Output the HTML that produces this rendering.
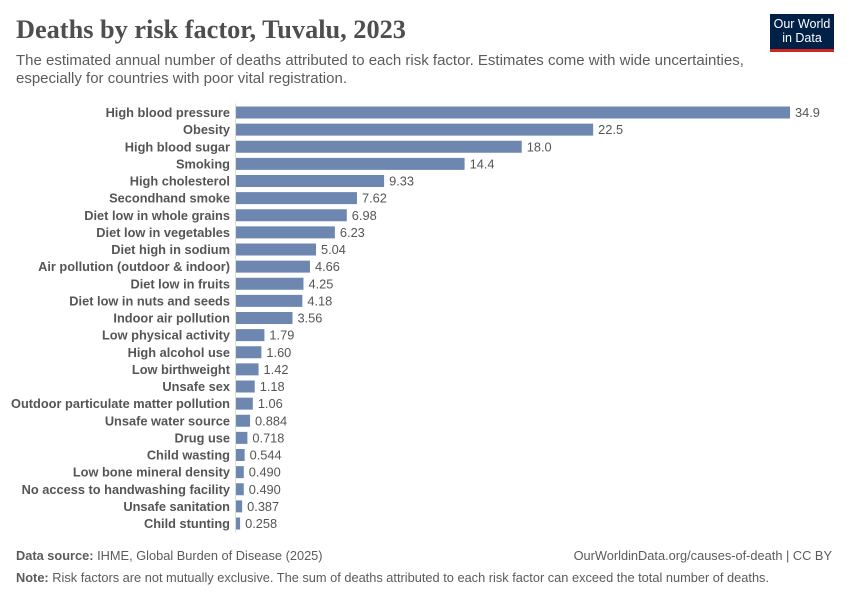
<!DOCTYPE html>
<html><head><meta charset="utf-8"><style>
body{margin:0;background:#fff;font-family:"Liberation Sans",sans-serif;}
#wrap{position:relative;width:850px;height:600px;overflow:hidden;}
.t{position:absolute;white-space:nowrap;}
</style></head><body>
<div id="wrap">
<div class="t" style="left:16px;top:15px;font-family:'Liberation Serif',serif;font-size:26.3px;font-weight:bold;color:#4e4e4e;">Deaths by risk factor, Tuvalu, 2023</div>
<div class="t" style="left:16px;top:52px;font-size:15px;line-height:18px;color:#5b5b5b;">The estimated annual number of deaths attributed to each risk factor. Estimates come with wide uncertainties,<br>especially for countries with poor vital registration.</div>
<div style="position:absolute;left:770px;top:14px;width:64px;height:38px;background:#002147;border-bottom:3px solid #ce261e;box-sizing:border-box;color:#fff;font-size:12.5px;line-height:13.5px;text-align:center;padding-top:4px;">Our World<br>in Data</div>
<svg id="chart" width="850" height="600" style="position:absolute;left:0;top:0;"></svg>
<div class="t" style="left:16px;top:548px;font-size:12.8px;color:#5b5b5b;"><b>Data source:</b> IHME, Global Burden of Disease (2025)</div>
<div class="t" style="right:18px;top:548px;font-size:12.8px;color:#5b5b5b;">OurWorldinData.org/causes-of-death | CC BY</div>
<div class="t" style="left:16px;top:570px;font-size:12.8px;color:#5b5b5b;"><b>Note:</b> Risk factors are not mutually exclusive. The sum of deaths attributed to each risk factor can exceed the total number of deaths.</div>
</div>
<script>
const categories=["High blood pressure","Obesity","High blood sugar","Smoking","High cholesterol","Secondhand smoke","Diet low in whole grains","Diet low in vegetables","Diet high in sodium","Air pollution (outdoor & indoor)","Diet low in fruits","Diet low in nuts and seeds","Indoor air pollution","Low physical activity","High alcohol use","Low birthweight","Unsafe sex","Outdoor particulate matter pollution","Unsafe water source","Drug use","Child wasting","Low bone mineral density","No access to handwashing facility","Unsafe sanitation","Child stunting"];
const values=[34.9,22.5,18.0,14.4,9.33,7.62,6.98,6.23,5.04,4.66,4.25,4.18,3.56,1.79,1.60,1.42,1.18,1.06,0.884,0.718,0.544,0.490,0.490,0.387,0.258];
const labels=["34.9","22.5","18.0","14.4","9.33","7.62","6.98","6.23","5.04","4.66","4.25","4.18","3.56","1.79","1.60","1.42","1.18","1.06","0.884","0.718","0.544","0.490","0.490","0.387","0.258"];
const NS="http://www.w3.org/2000/svg";
const svg=document.getElementById('chart');
const x0=236,x1=790,maxV=34.9;
const x=v=>x0+(x1-x0)*v/maxV;
const y=i=>112.5+i*17.125;
const bh=12;
const ax=document.createElementNS(NS,'line');


ax.setAttribute('x1',x0-0.5);ax.setAttribute('x2',x0-0.5);ax.setAttribute('y1',y(0)-9);ax.setAttribute('y2',y(categories.length-1)+9);
ax.setAttribute('stroke','#ddd');svg.appendChild(ax);
categories.forEach((c,i)=>{
  const r=document.createElementNS(NS,'rect');
  
  
  r.setAttribute('x',x0);r.setAttribute('y',y(i)-bh/2);
  r.setAttribute('width',Math.max(1,x(values[i])-x0));r.setAttribute('height',bh);
  r.setAttribute('fill','#6d87b0');svg.appendChild(r);
  const t=document.createElementNS(NS,'text');
  
  
  t.setAttribute('x',x0-6);t.setAttribute('y',y(i)+4.5);t.setAttribute('text-anchor','end');
  t.setAttribute('font-size','12.8');t.setAttribute('font-weight','bold');t.setAttribute('fill','#555');
  t.setAttribute('font-family','Liberation Sans, sans-serif');
  t.textContent=c;svg.appendChild(t);
  const v=document.createElementNS(NS,'text');
  
  
  v.setAttribute('x',x(values[i])+5);v.setAttribute('y',y(i)+4.5);
  v.setAttribute('font-size','12.8');v.setAttribute('fill','#555');
  v.setAttribute('font-family','Liberation Sans, sans-serif');
  v.textContent=labels[i];svg.appendChild(v);
});
</script>
</body></html>
